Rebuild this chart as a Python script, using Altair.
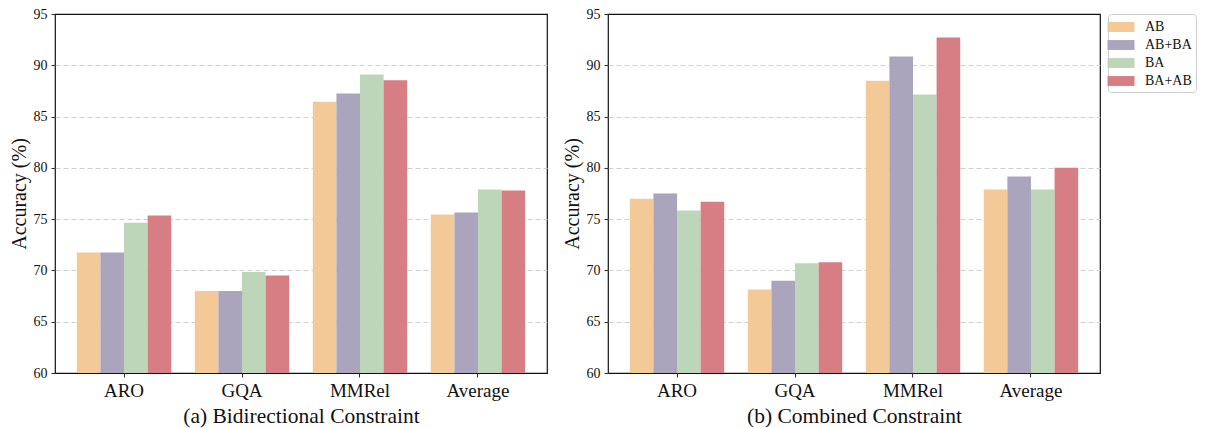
import altair as alt
import pandas as pd

categories = ["ARO", "GQA", "MMRel", "Average"]
series = ["AB", "AB+BA", "BA", "BA+AB"]
colors = ["#F2C997", "#AAA4BD", "#BDD5B8", "#D67E84"]

# (a) Bidirectional Constraint
bi_AB = [71.75, 68.0, 86.45, 75.45]
bi_ABBA = [71.75, 68.0, 87.25, 75.65]
bi_BA = [74.65, 69.85, 89.1, 77.9]
bi_BAAB = [75.35, 69.5, 88.55, 77.8]

# (b) Combined Constraint
cb_AB = [77.0, 68.15, 88.5, 77.9]
cb_ABBA = [77.5, 69.0, 90.85, 79.15]
cb_BA = [75.85, 70.7, 87.15, 77.9]
cb_BAAB = [76.7, 70.8, 92.7, 80.0]

y_ticks = [60, 65, 70, 75, 80, 85, 90, 95]
y_base = 60

FONT = "Liberation Serif"


def make_df(cols):
    rows = []
    for s, vals in zip(series, cols):
        for c, v in zip(categories, vals):
            rows.append({"category": c, "series": s, "value": v})
    return pd.DataFrame(rows)


df_bi = make_df([bi_AB, bi_ABBA, bi_BA, bi_BAAB])
df_cb = make_df([cb_AB, cb_ABBA, cb_BA, cb_BAAB])

# wide, flat legend patch (path overflows the unit box horizontally)
rect_path = "M-1.5,-0.55L1.5,-0.55L1.5,0.55L-1.5,0.55Z"


def panel(df, caption):
    return alt.Chart(df).mark_bar().encode(
        x=alt.X(
            "category:N",
            sort=categories,
            scale=alt.Scale(paddingInner=0.2, paddingOuter=0.185),
            axis=alt.Axis(
                title=caption,
                labelAngle=0,
                labelFontSize=19,
                titleFontSize=21.5,
                titleFontWeight="normal",
                tickSize=4,
                labelPadding=4,
                titlePadding=5,
                grid=False,
                domain=False,
            ),
        ),
        xOffset=alt.XOffset(
            "series:N", sort=series, scale=alt.Scale(paddingInner=0, paddingOuter=0)
        ),
        y=alt.Y(
            "value:Q",
            scale=alt.Scale(domain=[60, 95], zero=False, nice=False),
            axis=alt.Axis(
                values=y_ticks,
                title="Accuracy (%)",
                labelFontSize=14,
                titleFontSize=20,
                titleFontWeight="normal",
                tickSize=4,
                labelPadding=4,
                titlePadding=4,
                grid=True,
                gridColor="#cfcfcf",
                gridDash=[5, 3],
                gridWidth=1.1,
                gridOpacity={
                    "condition": {
                        "test": "datum.value <= 60 || datum.value >= 95",
                        "value": 0,
                    },
                    "value": 1,
                },
                domain=False,
            ),
        ),
        y2=alt.datum(y_base),
        color=alt.Color(
            "series:N",
            sort=series,
            scale=alt.Scale(domain=series, range=colors),
            legend=alt.Legend(
                title=None,
                orient="right",
                offset=7,
                padding=4,
                strokeColor="#cccccc",
                cornerRadius=3,
                fillColor="white",
                symbolType=rect_path,
                symbolSize=324,
                symbolStrokeWidth=0,
                symbolOpacity=1,
                labelFontSize=14,
                labelOffset=15,
                rowPadding=2,
            ),
        ),
    ).properties(width=492, height=359)


chart = alt.hconcat(
    panel(df_bi, "(a) Bidirectional Constraint"),
    panel(df_cb, "(b) Combined Constraint"),
    spacing=13,
).properties(
    padding={"top": -2, "left": 0, "right": 0, "bottom": 0}
).configure(
    font=FONT
).configure_view(
    stroke="#111111", strokeWidth=1.2
).configure_axis(
    labelFont=FONT, titleFont=FONT, labelColor="#111", titleColor="#111",
    tickColor="#333", tickWidth=1.1
).configure_legend(
    labelFont=FONT, labelColor="#111"
)

chart.save("out.html", embed_options={"renderer": "svg", "actions": False})
